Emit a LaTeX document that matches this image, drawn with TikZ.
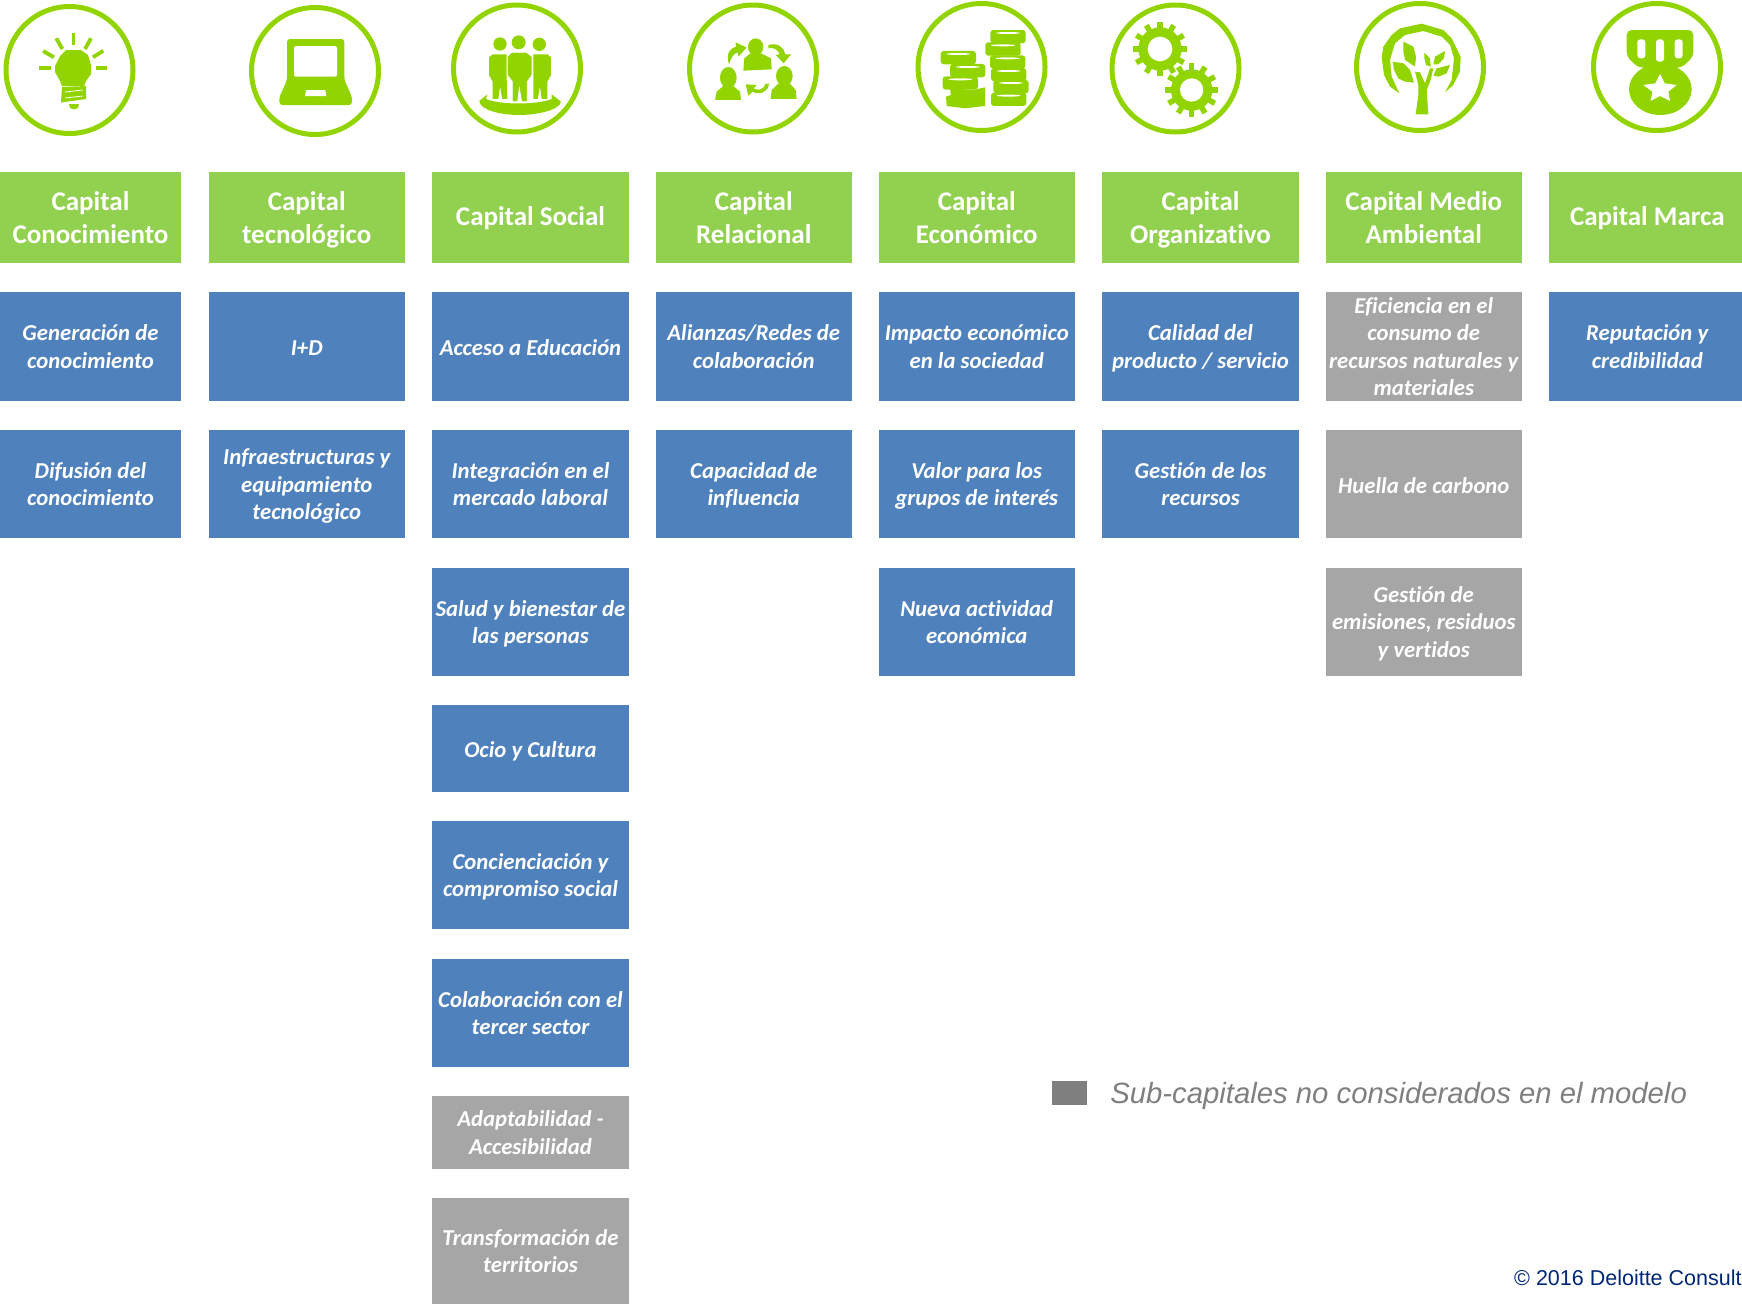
\documentclass[tikz,border=0pt]{standalone}
\usepackage{fontspec}
\setmainfont[Ligatures=NoCommon]{Carlito}
\newfontfamily\arialfont{Liberation Sans}
\usetikzlibrary{positioning}
\usetikzlibrary{calc}
\definecolor{verdeicono}{HTML}{92D400}
\definecolor{verdecaja}{HTML}{92D050}
\definecolor{azulcaja}{HTML}{4F81BD}
\definecolor{griscaja}{HTML}{A6A6A6}
\definecolor{grisnota}{HTML}{7F7F7F}
\definecolor{azulpie}{HTML}{002776}
\tikzset{
  caja/.style={inner sep=0, outer sep=0, align=center, text=white, minimum width=196.5pt, text depth=0pt},
  cabecera/.style={caja, fill=verdecaja, minimum height=91pt,
    execute at begin node=\rule{0pt}{20.6pt}, font=\fontsize{27}{32.2}\selectfont\bfseries},
  azul/.style={caja, fill=azulcaja, minimum height=108.5pt,
    execute at begin node=\rule{0pt}{22.6pt}, font=\fontsize{22.75}{27.3}\selectfont\bfseries\itshape},
  gris/.style={azul, fill=griscaja},
  unalinea/.style={text depth=4.5pt},
  anillo/.style={circle, draw=verdeicono, line width=5pt, minimum size=127pt, inner sep=0, outer sep=0},
  icono/.style={shift={#1}, x=.3333pt, y=-.3333pt},
  hueco/.style={fill=white},
  tinta/.style={fill=verdeicono},
}
\begin{document}
\begin{tikzpicture}[x=1pt, y=-1pt]
\useasboundingbox (0,0) rectangle (1742,1304);
% anillos
\node[anillo] (idea) at (69.5,70) {};
\node[anillo] (portatil) at (315,71) {};
\node[anillo] (gente) at (517,68.5) {};
\node[anillo] (red) at (753,68.5) {};
\node[anillo] (monedas) at (981.5,67) {};
\node[anillo] (engranajes) at (1175.5,68.5) {};
\node[anillo] (arbol) at (1420,67) {};
\node[anillo] (medalla) at (1657,67) {};
% bombilla
\foreach \xa/\ya/\xb/\yb in {73.5/33.3/73.5/45, 56.3/38.3/62.4/49, 91/38.3/85/49, 43.2/51/54/57.3, 103.3/50.7/93/57.3, 39/68/50.5/68, 96/68/107/68} {
 \draw[verdeicono, line width=3.8pt] (\xa,\ya) -- (\xb,\yb);
}
\fill[tinta] (66,50) -- (81,50) -- (88,55) -- (91,65) -- (91,74) -- (86,81) -- (84,86) -- (62,86) -- (60,81) -- (55,72) -- (55,66) -- (60,56) -- cycle;
\fill[tinta] (62,87) -- (86,86) -- (86,99) -- (61,102.5) -- cycle;
\draw[white, line width=.8pt] (65,92) -- (83,90) (65,98) -- (83,96);
\fill[tinta] (69,104) -- (79,104) -- (78,108) -- (74,109.5) -- (70,108) -- cycle;
% portatil
\fill[tinta, rounded corners=3pt] (287,39) -- (344.4,39) -- (344.4,80) -- (352,97) -- (352,105) -- (279.4,105) -- (279.4,97) -- (287,80) -- cycle;
\fill[hueco, rounded corners=2pt] (294,46) rectangle (337,76.7);
\fill[hueco] (306,90) -- (325.3,90) -- (326.3,96) -- (305,96) -- cycle;
% personas
\begin{scope}[icono={(470,25)}]
\fill[tinta] (90,57) circle (20) (146,52) circle (21) (208,58) circle (20);
\fill[tinta] (68,88) -- (110,88) -- (110,160) -- (112,222) -- (97,222) -- (90,185) -- (85,222) -- (68,222) -- (68,170) -- (57,150) -- (57,97) -- cycle;
\fill[tinta] (190,88) -- (232,88) -- (243,97) -- (243,150) -- (232,170) -- (232,222) -- (215,222) -- (210,185) -- (203,222) -- (190,222) -- (190,160) -- cycle;
\filldraw[tinta, draw=white, line width=.7pt] (125,82) -- (170,82) -- (186,95) -- (186,150) -- (172,170) -- (172,230) -- (155,230) -- (148,190) -- (143,230) -- (127,230) -- (127,170) -- (112,150) -- (112,95) -- cycle;
\fill[tinta] (28,228) -- (52,208) -- (48,222) .. controls (90,240) and (200,240) .. (245,222) -- (245,208) -- (273,230) .. controls (270,255) and (200,270) .. (150,270) .. controls (90,270) and (30,255) .. (28,228) -- cycle;
\end{scope}
% relaciones
\begin{scope}[icono={(705,25)}]
\fill[tinta] (152,66) ellipse (23 and 26) (70,158) ellipse (25 and 32) (238,153) ellipse (25 and 30);
\fill[tinta] (115,137) -- (200,133) -- (198,100) -- (170,86) -- (135,86) -- (118,100) -- cycle;
\fill[tinta] (30,225) -- (108,225) -- (105,200) -- (85,183) -- (55,183) -- (35,200) -- cycle;
\fill[tinta] (197,222) -- (275,222) -- (272,195) -- (255,176) -- (220,176) -- (200,195) -- cycle;
\fill[tinta] (72,118) .. controls (62,85) and (75,70) .. (93,65) -- (92,52) -- (125,68) -- (100,95) -- (98,82) .. controls (85,85) and (78,100) .. (72,118) -- cycle;
\fill[tinta] (190,60) .. controls (215,52) and (238,65) .. (240,88) -- (258,88) -- (236,115) -- (212,90) -- (224,88) .. controls (220,75) and (205,65) .. (190,70) -- cycle;
\fill[tinta] (122,178) -- (155,180) -- (146,190) .. controls (160,200) and (178,192) .. (182,176) -- (192,176) .. controls (190,200) and (165,212) .. (142,200) -- (130,212) -- cycle;
\end{scope}
% pilas de monedas
\begin{scope}[icono={(935,20)}]
\fill[tinta] (45,205) -- (115,210) -- (150,202) -- (150,258) -- (90,265) -- (35,258) -- (33,230) -- (48,225) -- cycle;
\foreach \cx/\cy in {70/113, 98/152, 76/189, 219/50, 204/87, 218/126, 221/164, 228/200, 221/238} {
 \fill[tinta, rounded corners=3pt] (\cx-53,\cy-20) rectangle (\cx+53,\cy+20);
 \fill[hueco] (\cx,\cy-11) ellipse (36 and 3);
}
\end{scope}
% engranajes
\begin{scope}[icono={(1125,15)}]
\foreach \cx/\cy/\ra/\rb/\rc in {105/102/37/65/82, 200/225/35/62/80} {
 \fill[hueco] (\cx,\cy) circle (\rb+5);
 \fill[tinta] (\cx,\cy) circle (\rb);
 \foreach \a in {0,30,...,330} {
  \draw[verdeicono, line width=5.5pt] ($(\cx,\cy)+(\a:\rb-5)$) -- ($(\cx,\cy)+(\a:\rc)$);
 }
 \fill[hueco] (\cx,\cy) circle (\ra);
}
\end{scope}
% arbol
\begin{scope}[icono={(1370,15)}]
\fill[tinta] (88,235) -- (60,215) -- (42,180) -- (35,125) -- (40,95) -- (65,60) -- (90,40) -- (155,26) -- (220,45) -- (245,70) -- (272,125) -- (270,170) -- (250,210) -- (225,232) -- (245,195) -- (252,130) -- (240,90) -- (215,65) -- (160,48) -- (105,60) -- (75,85) -- (60,135) -- (65,185) -- cycle;
\fill[tinta] (100,80) -- (130,95) -- (138,125) -- (135,155) -- (105,135) -- (100,110) -- cycle;
\fill[tinta] (68,140) -- (100,145) -- (120,165) -- (132,203) -- (105,200) -- (85,190) -- (72,165) -- cycle;
\fill[tinta] (163,113) -- (180,130) -- (182,155) -- (168,150) -- (163,130) -- cycle;
\fill[tinta] (225,108) -- (222,130) -- (205,148) -- (190,148) -- (195,125) -- cycle;
\fill[tinta] (240,150) -- (230,175) -- (205,185) -- (190,182) -- (200,160) -- cycle;
\fill[tinta] (135,170) -- (150,172) -- (165,205) -- (180,160) -- (190,160) -- (182,195) -- (170,225) -- (175,298) -- (137,298) -- (145,240) -- (145,210) -- cycle;
\end{scope}
% medalla
\begin{scope}[icono={(1610,20)}]
\fill[tinta, rounded corners=5pt] (50,30) -- (250,30) -- (250,110) -- (215,143) -- (85,143) -- (50,110) -- cycle;
\fill[tinta] (151,208) ellipse (94 and 77);
\fill[hueco, rounded corners=3pt] (82,58) rectangle (106,115) (138,58) rectangle (162,125) (194,58) rectangle (218,115);
\fill[hueco] (150,162) -- (164,190) -- (200,195) -- (175,215) -- (180,243) -- (150,228) -- (122,243) -- (127,215) -- (100,195) -- (136,190) -- cycle;
\end{scope}
% columnas
\node[cabecera, minimum width=181pt] (conoc) at (90.5,217.5) {Capital\\Conocimiento};
\node[azul, minimum width=181pt, below=29.2pt of conoc] (conoc1) {Generación de\\conocimiento};
\node[azul, minimum width=181pt, below=29.2pt of conoc1] (conoc2) {Difusión del\\conocimiento};

\node[cabecera] (tecno) at (306.75,217.5) {Capital\\tecnológico};
\node[azul, unalinea, below=29.2pt of tecno] (tecno1) {I+D};
\node[azul, below=29.2pt of tecno1] (tecno2) {Infraestructuras y\\equipamiento\\tecnológico};

\node[cabecera, unalinea] (social) at (530.5,217.5) {Capital Social};
\node[azul, unalinea, below=29.2pt of social] (social1) {Acceso a Educación};
\node[azul, below=29.2pt of social1] (social2) {Integración en el\\mercado laboral};
\node[azul, below=29.2pt of social2] (social3) {Salud y bienestar de\\las personas};
\node[azul, unalinea, minimum height=86.3pt, below=29.2pt of social3] (social4) {Ocio y Cultura};
\node[azul, below=29.2pt of social4] (social5) {Concienciación y\\compromiso social};
\node[azul, below=29.2pt of social5] (social6) {Colaboración con el\\tercer sector};
\node[gris, minimum height=72.5pt, below=29.2pt of social6] (social7) {Adaptabilidad -\\Accesibilidad};
\node[gris, minimum height=106pt, below=29.2pt of social7] (social8) {Transformación de\\territorios};

\node[cabecera] (relac) at (753.75,217.5) {Capital\\Relacional};
\node[azul, below=29.2pt of relac] (relac1) {Alianzas/Redes de\\colaboración};
\node[azul, below=29.2pt of relac1] (relac2) {Capacidad de\\influencia};

\node[cabecera] (econ) at (976.75,217.5) {Capital\\Económico};
\node[azul, below=29.2pt of econ] (econ1) {Impacto económico\\en la sociedad};
\node[azul, below=29.2pt of econ1] (econ2) {Valor para los\\grupos de interés};
\node[azul, below=29.2pt of econ2] (econ3) {Nueva actividad\\económica};

\node[cabecera] (organ) at (1200.5,217.5) {Capital\\Organizativo};
\node[azul, below=29.2pt of organ] (organ1) {Calidad del\\producto / servicio};
\node[azul, below=29.2pt of organ1] (organ2) {Gestión de los\\recursos};

\node[cabecera] (medio) at (1423.75,217.5) {Capital Medio\\Ambiental};
\node[gris, below=29.2pt of medio] (medio1) {Eficiencia en el\\consumo de\\recursos naturales y\\materiales};
\node[gris, unalinea, below=29.2pt of medio1] (medio2) {Huella de carbono};
\node[gris, below=29.2pt of medio2] (medio3) {Gestión de\\emisiones, residuos\\y vertidos};

\node[cabecera, unalinea] (marca) at (1647.25,217.5) {Capital Marca};
\node[azul, below=29.2pt of marca] (marca1) {Reputación y\\credibilidad};
% leyenda
\node[fill=grisnota, minimum width=34.6pt, minimum height=24pt, inner sep=0, outer sep=0] (muestra) at (1069.3,1093) {};
\node[right=23.5pt of muestra, yshift=-3pt, inner sep=0, text=grisnota, font=\arialfont\itshape\fontsize{29.3}{36}\selectfont] (nota) {Sub-capitales no considerados en el modelo};
\node[anchor=west, inner sep=0, text=azulpie, font=\arialfont\fontsize{21.5}{24}\selectfont] (pie) at (1514,1278) {© 2016 Deloitte Consult};
\end{tikzpicture}
\end{document}
